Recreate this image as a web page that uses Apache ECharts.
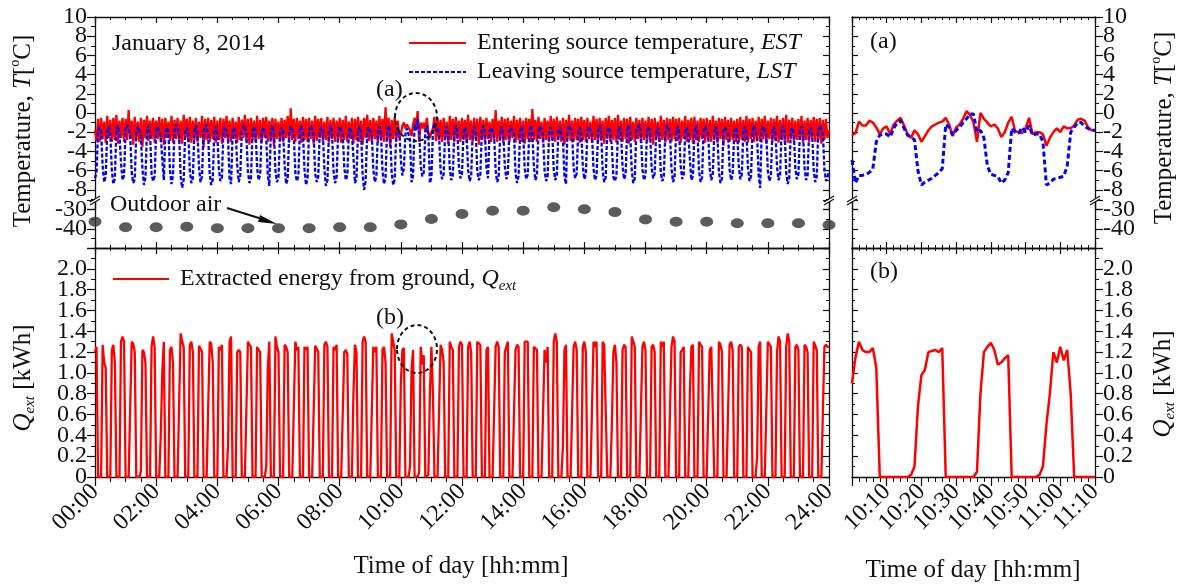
<!DOCTYPE html>
<html><head><meta charset="utf-8">
<script src="https://cdn.jsdelivr.net/npm/echarts@6/dist/echarts.min.js"></script>
<style>html,body{margin:0;padding:0;background:#fff}#c{width:1181px;height:584px}</style>
</head><body><div id="c"></div><script>
// ---------- DATA ----------
// Left panels: one sample every 3 minutes, 00:00 .. 24:00 (20 samples per hour row)
const STEP_LEFT = 3;
const estLeft = [
-1.8,-2.9,-0.6,-3.0,-0.5,-2.7,-0.9,-3.1,-0.3,-2.6,-0.7,-3.0,-0.5,-2.8,-0.2,-3.2,-0.8,-2.6,-0.5,-3.0,
-0.6,-2.8,0.3,-2.7,-0.8,-3.3,-0.4,-2.8,-0.9,-3.0,-0.5,-3.5,-0.7,-2.6,-0.3,-2.9,-0.8,-2.7,-0.5,-3.1,
-0.8,-2.7,-0.4,-3.0,-0.6,-3.3,-0.5,-2.6,-0.9,-2.9,-0.3,-3.1,-0.7,-2.7,-0.5,-3.0,-0.8,-3.2,-0.2,-2.6,
-0.6,-3.0,-0.4,-3.1,-0.8,-2.8,-0.5,-3.0,-0.9,-2.6,-0.3,-3.6,-0.6,-2.8,-0.5,-3.0,-0.7,-2.7,-0.4,-3.1,
-0.8,-2.8,-0.5,-3.2,-0.6,-2.6,-0.3,-3.0,-0.8,-3.0,-0.5,-2.7,-0.9,-3.1,-0.4,-2.8,-0.7,-2.6,-0.2,-3.0,
-0.6,-3.3,-0.5,-2.8,-0.8,-3.0,-0.3,-2.7,-0.7,-3.1,-0.5,-2.6,-0.4,-3.0,-0.8,-2.8,-0.5,-3.4,-0.6,-2.7,
-0.9,-2.9,-0.5,-3.0,-0.7,-2.6,-0.3,-3.1,0.5,-2.8,-0.6,-3.0,-0.5,-2.7,-0.8,-3.1,-0.4,-2.8,-0.6,-3.0,
-0.5,-2.7,-0.8,-3.2,-0.3,-2.9,-0.6,-2.6,-0.5,-3.0,-0.9,-2.8,-0.4,-3.1,-0.7,-2.7,-0.5,-3.0,-0.8,-2.8,
-0.5,-3.1,-0.7,-2.8,-0.3,-3.0,-0.9,-2.7,-0.5,-3.2,-0.6,-2.8,-0.4,-3.0,-0.8,-3.3,-0.5,-2.6,-0.2,-2.9,
-0.7,-3.0,-0.5,-2.7,-0.8,-3.1,-0.3,-2.8,-0.6,-3.0,0.6,-2.8,-0.5,-3.5,-0.7,-2.7,-0.4,-3.0,-0.8,-2.6,
-2.3,-1.3,-1.0,-1.6,-1.2,-1.3,-1.8,-2.4,-1.2,-0.5,-1.5,0.2,-3.0,-1.0,-1.6,-1.0,-2.0,-0.5,-2.0,-2.6,
-2.0,-1.6,-0.4,-2.9,-0.5,-2.8,-0.7,-3.0,-0.5,-2.7,-0.9,-3.2,-0.3,-2.8,-0.6,-3.0,-0.4,-2.7,-0.8,-3.0,
-0.5,-2.8,-0.7,-3.1,-0.2,-2.8,-0.8,-3.0,-0.5,-2.7,-0.6,-3.3,-0.4,-2.8,-0.7,-3.0,-0.5,-2.7,-0.9,-3.0,
-0.6,-2.8,0.3,-3.0,-0.8,-2.7,-0.4,-3.1,-0.6,-2.8,-0.5,-3.0,-0.8,-2.6,-0.3,-3.1,-0.7,-2.8,-0.5,-3.0,
-0.8,-3.2,-0.5,-2.7,-0.6,-3.0,0.4,-2.8,-0.7,-3.0,-0.4,-2.7,-0.9,-3.1,-0.5,-2.8,-0.8,-3.0,-0.3,-2.8,
-0.6,-3.0,-0.4,-2.8,-0.8,-3.0,-0.5,-3.3,-0.7,-2.7,-0.2,-2.9,-0.8,-3.0,-0.5,-2.8,-0.6,-3.1,-0.4,-2.8,
-0.7,-3.0,-0.5,-2.7,-0.9,-3.1,-0.3,-2.8,-0.6,-3.0,-0.5,-2.8,-0.8,-3.2,-0.5,-2.7,-0.3,-3.0,-0.7,-2.8,
-0.5,-3.1,-0.2,-2.8,-0.8,-3.0,-0.5,-2.7,-0.6,-3.2,-0.4,-2.8,-0.9,-3.0,-0.5,-2.7,-0.7,-3.1,-0.5,-2.8,
-0.8,-3.0,-0.4,-2.8,-0.6,-3.3,-0.5,-2.7,-0.9,-3.0,-0.3,-2.8,-0.7,-3.1,-0.5,-2.8,-0.6,-3.0,-0.4,-2.7,
-0.6,-2.9,-0.5,-3.1,-0.8,-2.7,-0.3,-3.0,-0.7,-2.8,-0.5,-3.2,-0.4,-2.8,-0.8,-3.0,-0.5,-2.7,-0.6,-3.1,
-0.5,-2.8,-0.7,-3.0,-0.3,-2.8,-0.8,-3.1,-0.5,-2.7,-0.6,-3.4,-0.4,-2.8,-0.7,-3.0,-0.5,-2.8,-0.8,-3.0,
-0.6,-3.1,-0.4,-2.8,-0.7,-3.0,-0.3,-3.1,-0.6,-2.7,-0.5,-3.0,-0.8,-2.8,-0.4,-3.0,-0.6,-2.7,-0.3,-3.2,
-0.8,-2.7,-0.5,-3.0,-0.6,-2.8,-0.3,-3.1,-0.7,-2.8,-0.5,-3.0,-0.2,-3.1,-0.7,-2.7,-0.5,-3.0,-0.8,-2.8,
-0.6,-2.8,-0.3,-3.1,-0.8,-2.8,-0.5,-3.0,-0.7,-2.7,-0.4,-3.0,-0.6,-2.8,-0.5,-3.2,-0.7,-2.8,-0.6,-2.6,
-1.8];
const lstLeft = [
-6.8,-6.2,-1.8,-1.5,-2.0,-5.5,-7.2,-6.6,-1.9,-1.4,-2.2,-6.0,-7.4,-6.8,-1.6,-1.3,-2.1,-5.2,-7.0,-6.5,
-1.7,-1.2,-1.5,-2.3,-6.2,-7.3,-6.9,-2.0,-1.4,-1.8,-2.4,-5.8,-7.5,-6.7,-1.8,-1.3,-2.0,-6.4,-7.1,-6.6,
-1.9,-1.4,-1.6,-2.5,-4.8,-7.0,-2.1,-1.5,-1.9,-5.9,-7.4,-6.5,-1.7,-1.2,-1.6,-2.2,-6.6,-7.8,-6.9,-2.0,
-1.5,-2.1,-6.0,-7.3,-6.8,-1.9,-1.3,-2.0,-5.6,-7.2,-6.6,-1.8,-1.5,-1.2,-2.3,-6.3,-7.5,-7.0,-2.0,-1.4,
-2.2,-5.8,-7.1,-6.7,-1.8,-1.4,-1.9,-2.6,-6.9,-7.4,-2.0,-1.5,-2.1,-5.4,-7.2,-6.5,-1.9,-1.3,-1.6,-2.3,
-6.1,-7.3,-6.8,-2.0,-1.4,-1.8,-5.7,-7.0,-6.4,-1.9,-1.5,-2.2,-2.7,-6.5,-7.6,-1.8,-1.3,-2.0,-6.0,-7.2,
-6.7,-2.1,-1.5,-1.8,-5.5,-7.4,-6.9,-2.0,-1.4,-1.2,-2.3,-6.2,-7.1,-6.6,-1.7,-1.4,-2.1,-5.9,-7.5,-6.8,
-1.9,-1.3,-1.7,-2.4,-6.3,-7.2,-6.6,-1.8,-1.5,-2.0,-5.8,-7.6,-7.0,-1.9,-1.3,-2.1,-6.1,-7.3,-6.7,-2.0,
-1.4,-1.8,-2.3,-5.6,-7.0,-6.5,-1.9,-1.5,-2.2,-4.6,-7.3,-6.8,-1.8,-1.4,-2.0,-6.4,-8.0,-7.1,-2.0,-1.5,
-1.7,-2.2,-5.9,-7.2,-6.6,-1.9,-1.4,-2.1,-6.0,-7.4,-6.7,-1.8,-1.3,-2.0,-6.2,-7.5,-6.9,-2.0,-1.5,-1.9,
-4.9,-6.5,-5.8,-2.2,-1.6,-1.6,-2.8,-7.2,-6.5,-1.2,-1.8,-0.6,-2.0,-5.5,-6.6,-6.2,-2.1,-1.3,-2.2,-7.3,
-6.7,-2.0,-1.0,-1.8,-1.5,-2.3,-6.0,-6.9,-6.4,-1.9,-1.4,-2.1,-5.8,-7.0,-6.5,-1.8,-1.3,-2.0,-5.6,-6.8,
-6.3,-1.9,-1.5,-2.2,-5.9,-7.1,-6.6,-1.8,-1.4,-2.0,-6.1,-7.0,-6.4,-1.7,-1.3,-2.1,-5.7,-6.8,-2.0,-1.5,
-1.8,-2.3,-6.0,-7.2,-6.7,-1.9,-1.4,-2.1,-5.5,-6.9,-6.3,-1.8,-1.5,-1.3,-2.2,-6.2,-7.3,-6.6,-1.9,-1.4,
-2.0,-5.8,-6.9,-6.4,-1.8,-1.3,-2.1,-5.6,-7.0,-6.5,-1.9,-1.4,-1.2,-2.3,-6.0,-7.1,-6.6,-1.8,-1.5,-2.0,
-5.9,-7.0,-6.5,-1.9,-1.4,-2.2,-2.8,-6.6,-7.4,-1.8,-1.3,-1.6,-2.2,-5.7,-6.8,-6.3,-1.9,-1.5,-2.0,-5.5,
-6.9,-6.4,-1.8,-1.4,-1.6,-2.2,-5.8,-7.0,-6.5,-1.9,-1.3,-2.0,-6.1,-7.2,-6.7,-1.8,-1.5,-2.1,-3.5,-6.7,
-7.1,-6.5,-1.9,-1.4,-2.2,-5.6,-6.9,-6.4,-1.8,-1.3,-2.0,-6.0,-7.3,-6.8,-1.9,-1.5,-1.2,-2.3,-5.9,-7.0,
-6.5,-1.8,-1.4,-2.1,-5.7,-6.8,-6.3,-1.9,-1.5,-2.0,-6.2,-7.1,-6.6,-1.8,-1.3,-1.6,-2.2,-5.8,-7.2,-6.7,
-1.9,-1.4,-2.1,-5.5,-6.9,-6.4,-1.8,-1.5,-2.2,-4.8,-7.0,-6.6,-1.9,-1.3,-2.0,-6.0,-7.2,-6.7,-1.8,-1.4,
-1.6,-2.2,-5.8,-7.0,-6.5,-1.9,-1.4,-2.1,-6.1,-7.3,-6.8,-1.8,-1.5,-1.3,-2.2,-5.9,-7.0,-6.4,-1.9,-1.5,
-2.1,-5.6,-6.9,-6.4,-1.8,-1.4,-2.0,-5.7,-7.1,-6.6,-1.9,-1.3,-2.0,-2.6,-6.5,-7.8,-1.8,-1.4,-1.6,-2.3,
-6.0,-7.1,-6.6,-1.9,-1.4,-2.1,-5.6,-7.0,-6.5,-1.8,-1.3,-2.0,-6.2,-7.4,-6.8,-1.9,-1.5,-2.1,-5.8,-6.9,
-6.4,-1.8,-1.4,-2.0,-5.7,-7.0,-6.5,-1.9,-1.5,-2.1,-6.0,-7.2,-6.6,-1.8,-1.3,-1.6,-2.2,-5.8,-7.1,-6.7,
-6.0];
const qLeft = [
1.2,1.25,0,0,0,1.27,1.1,1.05,0,0,0,1.22,1.27,1.1,0,0,0,1.3,1.35,1.3,
0,0,0,0,1.3,1.28,1.2,0,0,0,0.05,1.22,1.2,1.1,0,0,0,1.25,1.35,1.25,
0,0,0,0.4,1.0,1.3,0,0,0,1.22,1.25,1.1,0,0,0,0,1.38,1.3,1.25,0,
0,0,1.27,1.3,1.2,0,0,0,1.26,1.25,1.2,0,0,0,0,1.3,1.28,1.1,0,0,
0,1.25,1.22,1.27,0,0,0,0.3,1.3,1.35,0,0,0,1.2,1.22,1.2,0,0,0,0,
1.3,1.27,1.25,0,0,0,1.25,1.22,1.2,0,0,0,0.1,1.05,1.3,0,0,0,1.35,1.25,
1.2,0,0,0,1.27,1.25,1.2,0,0,0,0,1.3,1.22,1.25,0,0,0,1.25,1.22,1.25,
0,0,0,0,1.26,1.25,1.2,0,0,0,1.27,1.3,1.25,0,0,0,1.25,1.22,1.27,0,
0,0,0,1.2,1.22,1.18,0,0,0,0.8,1.27,1.2,0,0,0,1.3,1.35,1.3,0,0,
0,0,1.25,1.2,1.25,0,0,0,1.22,1.25,1.1,0,0,0,1.38,1.3,1.22,0,0,0,
0.9,1.22,1.24,0,0,0,0.1,1.03,1.22,0,0,0,0.05,1.25,1.08,1.17,0,0,0.02,0.8,
1.25,0.8,0,0,0,0,1.27,1.22,1.1,0,0,0,1.3,1.25,1.22,0,0,0,1.25,1.3,
1.27,0,0,0,1.25,1.3,1.2,0,0,0,1.3,1.3,1.27,0,0,0,1.22,1.25,0,0,
0,0,1.25,1.3,1.25,0,0,0,1.2,1.25,1.3,0,0,0,0,1.22,1.27,1.25,0,0,
0,1.3,1.3,1.3,0,0,0,1.25,1.25,1.22,0,0,0,0,1.22,1.1,1.25,0,0,0,
1.3,1.38,1.3,0,0,0,0.3,1.22,1.27,0,0,0,0,1.25,1.3,1.22,0,0,0,1.25,
1.3,1.2,0,0,0,0,1.3,1.25,1.3,0,0,0,1.3,1.27,1.27,0,0,0,0.5,1.2,
1.27,1.1,0,0,0,1.22,1.27,1.25,0,0,0,1.35,1.3,1.25,0,0,0,0,1.25,1.3,
1.22,0,0,0,1.25,1.27,1.2,0,0,0,1.3,1.25,1.3,0,0,0,0,1.25,1.35,1.3,
0,0,0,1.2,1.22,1.25,0,0,0,0.8,1.25,1.27,0,0,0,1.3,1.27,1.25,0,0,
0,0,1.22,1.25,1.25,0,0,0,1.3,1.27,1.2,0,0,0,0,1.27,1.3,1.22,0,0,
0,1.25,1.27,1.25,0,0,0,1.25,1.22,1.2,0,0,0,0.2,1.25,1.3,0,0,0,0,
1.3,1.3,1.25,0,0,0,1.2,1.35,1.3,0,0,0,1.25,1.38,1.3,0,0,0,1.25,1.27,
1.22,0,0,0,1.27,1.25,1.2,0,0,0,1.3,1.3,1.22,0,0,0,0,1.25,1.27,1.25,
1.25];
// Outdoor air temperature, hourly (00:00 .. 24:00)
const outdoorHours = [0,1,2,3,4,5,6,7,8,9,10,11,12,13,14,15,16,17,18,19,20,21,22,23,24];
const outdoorTemp = [-36.3,-39.2,-39.2,-38.9,-39.7,-39.7,-39.7,-39.7,-39.2,-39.2,-37.7,-34.9,-32.3,-30.6,-30.6,-28.8,-29.8,-31.3,-35.1,-36.3,-36.3,-37.1,-37.1,-37.1,-38.0];
// Right panels: one sample per minute from 10:00 (minute 600) to 11:10
const RIGHT_START = 600;
const estRight = [
-2.3,-2.1,-0.9,-1.3,-1.3,-0.8,-1.0,-1.5,-2.2,-1.6,
-1.4,-2.2,-1.2,-0.8,-0.5,-1.3,-2.2,-2.6,-1.8,-2.2,
-3.0,-2.4,-1.8,-1.4,-1.2,-1.0,-0.9,-0.5,-1.2,-2.4,
-1.5,-1.2,-0.6,0.2,-0.2,-1.0,-3.0,0.0,-0.6,-1.0,
-1.4,-1.2,-1.6,-2.5,-2.0,-1.0,-0.4,-1.9,-2.0,-2.1,
-1.6,-0.5,-2.2,-2.0,-2.0,-2.2,-3.4,-2.6,-2.0,-1.6,
-2.0,-1.4,-1.6,-1.6,-1.3,-0.7,-0.6,-0.8,-1.5,-1.8,-1.8];
const lstRight = [
-4.9,-7.3,-6.5,-6.5,-6.4,-6.2,-5.8,-3.0,-2.3,-2.2,
-2.2,-2.5,-1.6,-1.0,-0.8,-1.6,-2.3,-2.5,-2.8,-6.0,
-7.5,-7.2,-7.0,-6.8,-6.5,-6.2,-5.8,-1.2,-1.5,-2.3,
-1.8,-1.5,-1.0,-0.6,-0.1,-0.1,-2.0,-1.8,-2.6,-5.5,
-6.4,-6.5,-6.6,-7.3,-7.0,-6.2,-1.6,-2.0,-2.1,-1.5,
-2.0,-1.3,-2.3,-2.2,-2.2,-3.0,-7.5,-7.3,-6.9,-6.8,
-6.7,-6.6,-5.5,-2.0,-1.5,-1.0,-1.0,-1.4,-1.6,-1.8,-1.8];
const qRight = [
0.9,1.15,1.3,1.22,1.2,1.2,1.24,1.05,0,0,
0,0,0,0,0,0,0,0.02,0.1,0.68,
0.98,1.03,1.2,1.21,1.22,1.2,1.24,0,0,0,
0,0,0,0,0,0,0.05,0.8,1.2,1.25,
1.29,1.22,1.08,1.1,1.14,1.17,0,0,0,0,
0,0,0,0,0.02,0.1,0.5,0.8,1.2,1.1,
1.25,1.12,1.22,0.8,0,0,0,0,0,0,0];
const tempTicks = {min: -10, max: 10, interval: 2};
const tempEnds = {min: -10, max: 10, interval: 20};
const lowTicks = {min: -50, max: -25, interval: 10, shown: [-30, -40]};
const qTicks = {min: 0, max: 2.2, interval: 0.2};
const qEnds = {min: 0, max: 2.2, interval: 2.2};
const leftTime = {min: 0, max: 1440, interval: 120};
const rightTime = {min: 600, max: 670, interval: 10};

// ---------- CHART ----------
const FONT = 'Liberation Serif';
const INK = '#111';
const leftData = arr => arr.map((v, i) => [i * STEP_LEFT, v]);
const rightData = arr => arr.map((v, i) => [RIGHT_START + i, v]);
const pad2 = n => (n < 10 ? '0' : '') + n;

const L = {x: 95, w: 734}, R = {x: 852, w: 243};
const T1 = {top: 17, h: 192}, T2 = {top: 200, h: 48}, B = {top: 248, h: 229};

const lbl = {fontFamily: FONT, fontSize: 24, color: INK};
const line = {show: true, onZero: false, lineStyle: {color: INK, width: 1.3}};
function ax(base, o) { return Object.assign({splitLine: {show: false}, axisLine: line}, base, o); }
const tickIn = {show: true, inside: true, length: 6, lineStyle: {color: INK, width: 1.2}};
const minorIn = {show: true, splitNumber: 2, length: 3, lineStyle: {color: INK, width: 1}};
const tickOut = {show: true, inside: false, length: 8, lineStyle: {color: INK, width: 1.2}};
const minorOut = {show: true, splitNumber: 2, length: 4, lineStyle: {color: INK, width: 1}};
const mk = (base, extra) => Object.assign({}, base, extra);

const xLeftFmt = v => pad2(Math.round(v / 60)) + ':00';
const xRightFmt = v => v === RIGHT_START ? '' : Math.floor(v / 60) + ':' + pad2(v % 60);
const tFmt = v => (v <= -10 || v >= 10) ? '' : String(v);
const tEndFmt = v => v === 10 ? '10' : '';
const lowFmt = v => lowTicks.shown.indexOf(v) >= 0 ? String(v) : '';
const qFmt = v => (v === 0 || v > 2.1) ? '' : v.toFixed(1);
const qEndFmt = v => v === 0 ? '0' : '';
// main labelled axis: the extreme labels are handed over to an "ends" axis so no label gets dropped
const yl = f => Object.assign({formatter: f, margin: 8, showMinLabel: false, showMaxLabel: false}, lbl);
const ylEnds = f => Object.assign({formatter: f, margin: 8, showMinLabel: true, showMaxLabel: true}, lbl);
const endsAxis = (base, grid, pos, f) => Object.assign({type: 'value', gridIndex: grid, position: pos, splitLine: {show: false},
  axisLine: {show: false, onZero: false}, axisTick: {show: false}, minorTick: {show: false}, axisLabel: ylEnds(f)}, base);

const xAxis = [
  ax(leftTime, {type: 'value', gridIndex: 0, position: 'top', axisTick: tickIn, minorTick: mk(minorIn, {splitNumber: 4}), axisLabel: {show: false}}),
  ax(leftTime, {type: 'value', gridIndex: 1, position: 'bottom', axisTick: tickIn, minorTick: mk(minorIn, {splitNumber: 4}), axisLabel: {show: false}}),
  ax(leftTime, {type: 'value', gridIndex: 2, position: 'bottom', axisTick: mk(tickOut, {length: 9}), minorTick: mk(minorOut, {splitNumber: 4, length: 5}),
     axisLabel: Object.assign({rotate: 45, margin: 11, formatter: xLeftFmt, showMinLabel: true, showMaxLabel: true}, lbl)}),
  ax(leftTime, {type: 'value', gridIndex: 2, position: 'top', axisTick: tickIn, minorTick: mk(minorIn, {splitNumber: 4}), axisLabel: {show: false}}),
  ax(rightTime, {type: 'value', gridIndex: 3, position: 'top', axisTick: tickIn, minorTick: mk(minorIn, {splitNumber: 5}), axisLabel: {show: false}}),
  ax(rightTime, {type: 'value', gridIndex: 4, position: 'bottom', axisTick: tickIn, minorTick: mk(minorIn, {splitNumber: 5}), axisLabel: {show: false}}),
  ax(rightTime, {type: 'value', gridIndex: 5, position: 'bottom', axisTick: mk(tickOut, {length: 9}), minorTick: mk(minorOut, {splitNumber: 5, length: 5}),
     axisLabel: Object.assign({rotate: 45, margin: 11, formatter: xRightFmt, showMinLabel: true, showMaxLabel: true}, lbl)}),
  ax(rightTime, {type: 'value', gridIndex: 5, position: 'top', axisTick: tickIn, minorTick: mk(minorIn, {splitNumber: 5}), axisLabel: {show: false}})
];

const yAxis = [
  ax(tempTicks, {type: 'value', gridIndex: 0, position: 'left', axisTick: tickOut, minorTick: minorOut, axisLabel: yl(tFmt)}),
  ax(tempTicks, {type: 'value', gridIndex: 0, position: 'right', axisTick: tickIn, minorTick: minorIn, axisLabel: {show: false}}),
  ax(lowTicks, {type: 'value', gridIndex: 1, position: 'left', axisTick: tickOut, minorTick: minorOut, axisLabel: Object.assign({formatter: lowFmt, margin: 8}, lbl)}),
  ax(lowTicks, {type: 'value', gridIndex: 1, position: 'right', axisTick: tickIn, minorTick: minorIn, axisLabel: {show: false}}),
  ax(qTicks, {type: 'value', gridIndex: 2, position: 'left', axisTick: tickOut, minorTick: minorOut, axisLabel: yl(qFmt)}),
  ax(qTicks, {type: 'value', gridIndex: 2, position: 'right', axisTick: tickIn, minorTick: minorIn, axisLabel: {show: false}}),
  ax(tempTicks, {type: 'value', gridIndex: 3, position: 'left', axisTick: tickIn, minorTick: minorIn, axisLabel: {show: false}}),
  ax(tempTicks, {type: 'value', gridIndex: 3, position: 'right', axisTick: tickOut, minorTick: minorOut, axisLabel: yl(tFmt)}),
  ax(lowTicks, {type: 'value', gridIndex: 4, position: 'left', axisTick: tickIn, minorTick: minorIn, axisLabel: {show: false}}),
  ax(lowTicks, {type: 'value', gridIndex: 4, position: 'right', axisTick: tickOut, minorTick: minorOut, axisLabel: Object.assign({formatter: lowFmt, margin: 8}, lbl)}),
  ax(qTicks, {type: 'value', gridIndex: 5, position: 'left', axisTick: tickIn, minorTick: minorIn, axisLabel: {show: false}}),
  ax(qTicks, {type: 'value', gridIndex: 5, position: 'right', axisTick: tickOut, minorTick: minorOut, axisLabel: yl(qFmt)}),
  endsAxis(tempEnds, 0, 'left', tEndFmt),
  endsAxis(qEnds, 2, 'left', qEndFmt),
  endsAxis(tempEnds, 3, 'right', tEndFmt),
  endsAxis(qEnds, 5, 'right', qEndFmt)
];

const grid = [
  {left: L.x, width: L.w, top: T1.top, height: T1.h},
  {left: L.x, width: L.w, top: T2.top, height: T2.h},
  {left: L.x, width: L.w, top: B.top, height: B.h},
  {left: R.x, width: R.w, top: T1.top, height: T1.h},
  {left: R.x, width: R.w, top: T2.top, height: T2.h},
  {left: R.x, width: R.w, top: B.top, height: B.h}
];

const RED = '#ff0000', BLUE = '#0000ff';
const series = [
  {name: 'EST', type: 'line', xAxisIndex: 0, yAxisIndex: 0, data: leftData(estLeft), showSymbol: false, symbol: 'none', lineStyle: {color: RED, width: 2.3}, itemStyle: {color: RED}},
  {name: 'LST', type: 'line', xAxisIndex: 0, yAxisIndex: 0, data: leftData(lstLeft), showSymbol: false, symbol: 'none', lineStyle: {color: BLUE, width: 2.3, type: [4, 2]}, itemStyle: {color: BLUE}},
  {name: 'Outdoor air', type: 'scatter', xAxisIndex: 1, yAxisIndex: 2, data: outdoorHours.map((h, i) => [h * 60, outdoorTemp[i]]), symbol: 'circle', symbolSize: [13, 10], itemStyle: {color: '#333333'}, clip: false},
  {name: 'Qext', type: 'line', xAxisIndex: 2, yAxisIndex: 4, data: leftData(qLeft), showSymbol: false, symbol: 'none', lineStyle: {color: RED, width: 2.3}, itemStyle: {color: RED}},
  {name: 'EST', type: 'line', xAxisIndex: 4, yAxisIndex: 6, data: rightData(estRight), showSymbol: false, symbol: 'none', lineStyle: {color: RED, width: 2.5}, itemStyle: {color: RED}},
  {name: 'LST', type: 'line', xAxisIndex: 4, yAxisIndex: 6, data: rightData(lstRight), showSymbol: false, symbol: 'none', lineStyle: {color: BLUE, width: 3, type: [5, 3]}, itemStyle: {color: BLUE}},
  {name: 'Qext', type: 'line', xAxisIndex: 6, yAxisIndex: 10, data: rightData(qRight), showSymbol: false, symbol: 'none', lineStyle: {color: RED, width: 2.5}, itemStyle: {color: RED}}
];

const richBase = {
  n: {fontFamily: FONT, fontSize: 24, color: INK, lineHeight: 30},
  i: {fontFamily: FONT, fontSize: 24, fontStyle: 'italic', color: INK, lineHeight: 30},
  sub: {fontFamily: FONT, fontSize: 15, fontStyle: 'italic', color: INK, verticalAlign: 'bottom', lineHeight: 18},
  sup: {fontFamily: FONT, fontSize: 14, color: INK, verticalAlign: 'top', lineHeight: 14},
  p: {width: 6}
};
const richTitle = Object.assign({}, richBase, {
  n: {fontFamily: FONT, fontSize: 25, color: INK, lineHeight: 30},
  i: {fontFamily: FONT, fontSize: 25, fontStyle: 'italic', color: INK, lineHeight: 30}
});

const hiddenSymbol = {color: 'rgba(0,0,0,0)', opacity: 0, borderWidth: 0};
const legend = [
  {data: ['EST', 'LST'], orient: 'vertical', left: 408, top: 31, padding: 0, itemWidth: 57, itemHeight: 14, itemGap: 5, selectedMode: false,
   itemStyle: hiddenSymbol,
   formatter: n => n === 'EST' ? '{p|}{n|Entering source temperature, }{i|EST}' : '{p|}{n|Leaving source temperature, }{i|LST}',
   textStyle: {fontFamily: FONT, fontSize: 24, color: INK, rich: richBase}},
  {data: ['Qext'], orient: 'horizontal', left: 112, top: 267, padding: 0, itemWidth: 56, itemHeight: 14, selectedMode: false,
   itemStyle: hiddenSymbol,
   formatter: () => '{p|}{n|Extracted energy from ground, }{i|Q}{sub|ext}',
   textStyle: {fontFamily: FONT, fontSize: 24, color: INK, rich: richBase}}
];

function txt(x, y, text, opts) {
  return {type: 'text', x: x, y: y, z: 100, style: Object.assign({text: text, fill: INK, font: '24px "' + FONT + '"', rich: richBase}, opts || {})};
}
function vtitle(x, y, text) {
  return {type: 'text', x: x, y: y, rotation: Math.PI / 2, z: 100,
    style: {text: text, fill: INK, font: '25px "' + FONT + '"', align: 'center', verticalAlign: 'middle', rich: richTitle}};
}
function breakMark(x, y) {
  return [
    {type: 'polygon', z: 110, shape: {points: [[x - 5, y + 3], [x + 5, y - 3], [x + 5, y], [x - 5, y + 6]]}, style: {fill: '#fff'}},
    {type: 'line', z: 111, shape: {x1: x - 5, y1: y + 3, x2: x + 5, y2: y - 3}, style: {stroke: INK, lineWidth: 1.2}},
    {type: 'line', z: 111, shape: {x1: x - 5, y1: y + 6, x2: x + 5, y2: y}, style: {stroke: INK, lineWidth: 1.2}}
  ];
}
const graphic = [].concat(
  breakMark(L.x, 199), breakMark(L.x + L.w, 199), breakMark(R.x, 199), breakMark(R.x + R.w, 199),
  [
    txt(112, 44, 'January 8, 2014', {verticalAlign: 'middle'}),
    txt(376, 90, '(a)', {verticalAlign: 'middle'}),
    txt(376, 318, '(b)', {verticalAlign: 'middle'}),
    txt(870, 42, '(a)', {verticalAlign: 'middle'}),
    txt(870, 272, '(b)', {verticalAlign: 'middle'}),
    txt(110, 205, 'Outdoor air', {verticalAlign: 'middle'}),
    {type: 'ellipse', z: 100, shape: {cx: 416, cy: 117, rx: 21, ry: 24}, style: {fill: 'none', stroke: INK, lineWidth: 2, lineDash: [4, 3]}},
    {type: 'ellipse', z: 100, shape: {cx: 417, cy: 349, rx: 20, ry: 24}, style: {fill: 'none', stroke: INK, lineWidth: 2, lineDash: [4, 3]}},
    {type: 'line', z: 100, shape: {x1: 227, y1: 208, x2: 262, y2: 219}, style: {stroke: INK, lineWidth: 2}},
    {type: 'polygon', z: 100, shape: {points: [[277, 224], [260, 215], [258, 222]]}, style: {fill: INK}},
    vtitle(23, 131, '{n|Temperature, }{i|T}{n|[}{sup|o}{n|C]}'),
    vtitle(23, 378, '{i|Q}{sub|ext}{n| [kWh]}'),
    vtitle(1164, 128, '{n|Temperature, }{i|T}{n|[}{sup|o}{n|C]}'),
    vtitle(1163, 384, '{i|Q}{sub|ext}{n| [kWh]}'),
    txt(461, 566, 'Time of day [hh:mm]', {align: 'center', verticalAlign: 'middle', font: '25px "' + FONT + '"'}),
    txt(973, 570, 'Time of day [hh:mm]', {align: 'center', verticalAlign: 'middle', font: '25px "' + FONT + '"'})
  ]
);

const chart = echarts.init(document.getElementById('c'), null, {renderer: 'canvas'});
chart.setOption({
  animation: false,
  backgroundColor: '#fff',
  grid: grid, xAxis: xAxis, yAxis: yAxis, series: series, legend: legend, graphic: graphic
});
</script></body></html>
